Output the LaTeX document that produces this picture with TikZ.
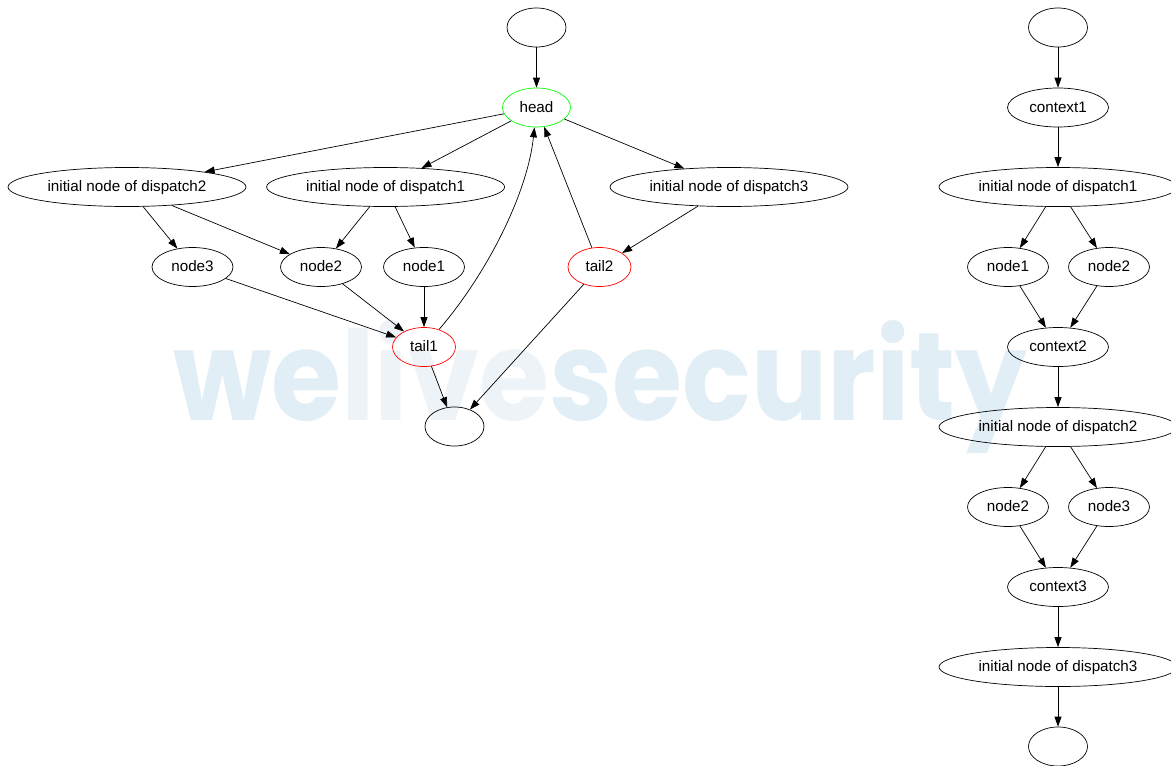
\documentclass[tikz,border=0pt]{standalone}
\usepackage{fontspec}
\setmainfont{Liberation Sans}
\newfontfamily\wmfont{Poppins}
\usetikzlibrary{shapes.geometric,arrows.meta}
\definecolor{wmblue}{HTML}{E2EEF6}
\definecolor{wmlight}{HTML}{EEF3F7}
\definecolor{gvgreen}{HTML}{00FF00}
\definecolor{gvred}{HTML}{FF0000}
\begin{document}
\begin{tikzpicture}[x=1pt,y=-1pt,
  gv/.style={ellipse,draw=black,line width=0.7pt,inner sep=0pt,minimum height=39pt,
    font=\fontsize{15.2}{17}\selectfont,text height=11pt,text depth=2pt},
  initn/.style={gv,minimum width=238pt},
  small/.style={gv,minimum width=81pt},
  ctx/.style={gv,minimum width=101pt},
  empt/.style={gv,minimum width=59pt},
  tailn/.style={gv,draw=gvred,minimum width=63pt},
  headn/.style={gv,draw=gvgreen,minimum width=68pt},
  edge/.style={line width=0.7pt,-{Triangle[length=10pt,width=7pt]}}]
\useasboundingbox (0,0) rectangle (1171,766);
\fill[white] (0,0) rectangle (1171,766);
% watermark
\node[anchor=base west,inner sep=0pt] (wm) at (173,420)
  {\resizebox{854pt}{100pt}{\wmfont\bfseries\textcolor{wmblue}{we}\textcolor{wmlight}{live}\textcolor{wmblue}{security}}};
% left graph
\node[empt] (ltop) at (536.5,27.5) {};
\node[headn] (head) at (536.5,107.5) {head};
\node[initn] (ld2) at (127,187) {initial node of dispatch2};
\node[initn] (ld1) at (385.6,187) {initial node of dispatch1};
\node[initn] (ld3) at (729,187) {initial node of dispatch3};
\node[small] (ln3) at (192.5,267) {node3};
\node[small] (ln2) at (321,267) {node2};
\node[small] (ln1) at (424,267) {node1};
\node[tailn] (tail2) at (599.5,267) {tail2};
\node[tailn] (tail1) at (424,347) {tail1};
\node[empt] (lbot) at (454.5,426.5) {};
\draw[edge] (ltop) -- (head);
\draw[edge] (head) -- (ld2);
\draw[edge] (head) -- (ld1);
\draw[edge] (head) -- (ld3);
\draw[edge] (ld2) -- (ln3);
\draw[edge] (ld2) -- (ln2);
\draw[edge] (ld1) -- (ln2);
\draw[edge] (ld1) -- (ln1);
\draw[edge] (ld3) -- (tail2);
\draw[edge] (ln3) -- (tail1);
\draw[edge] (ln2) -- (tail1);
\draw[edge] (ln1) -- (tail1);
\draw[edge] (tail1) .. controls (490,270) and (528,190) .. (head);
\draw[edge] (tail2) -- (head);
\draw[edge] (tail1) -- (lbot);
\draw[edge] (tail2) -- (lbot);
% right graph
\node[empt] (rtop) at (1058,27.5) {};
\node[ctx] (c1) at (1058,107.5) {context1};
\node[initn] (rd1) at (1058,187) {initial node of dispatch1};
\node[small] (rn1) at (1008,267) {node1};
\node[small] (rn2) at (1109,267) {node2};
\node[ctx] (c2) at (1058,347) {context2};
\node[initn] (rd2) at (1058,427) {initial node of dispatch2};
\node[small] (rn2b) at (1008,507) {node2};
\node[small] (rn3) at (1109,507) {node3};
\node[ctx] (c3) at (1058,587) {context3};
\node[initn] (rd3) at (1058,667) {initial node of dispatch3};
\node[empt] (rbot) at (1058,746.5) {};
\draw[edge] (rtop) -- (c1);
\draw[edge] (c1) -- (rd1);
\draw[edge] (rd1) -- (rn1);
\draw[edge] (rd1) -- (rn2);
\draw[edge] (rn1) -- (c2);
\draw[edge] (rn2) -- (c2);
\draw[edge] (c2) -- (rd2);
\draw[edge] (rd2) -- (rn2b);
\draw[edge] (rd2) -- (rn3);
\draw[edge] (rn2b) -- (c3);
\draw[edge] (rn3) -- (c3);
\draw[edge] (c3) -- (rd3);
\draw[edge] (rd3) -- (rbot);
\end{tikzpicture}
\end{document}
